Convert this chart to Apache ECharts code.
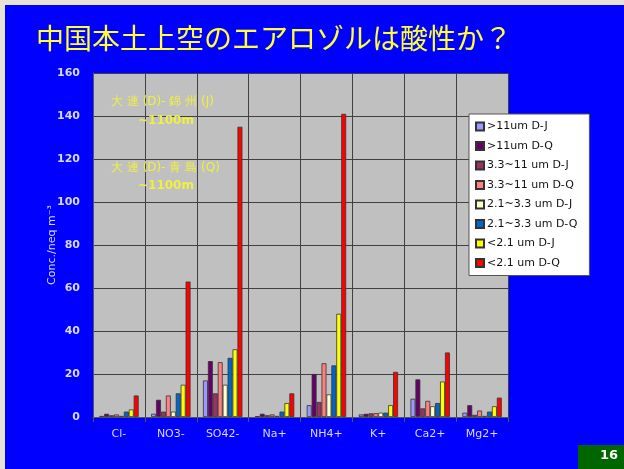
<!DOCTYPE html>
<html>
<head>
<meta charset="utf-8">
<script src="https://cdn.jsdelivr.net/npm/echarts@6/dist/echarts.min.js"></script>
<style>
  html, body { margin: 0; padding: 0; background: #e6e2d6; }
  #chart { width: 624px; height: 469px; }
</style>
</head>
<body>
<div id="chart"></div>
<script>
// Ion species on the category axis
const categories = ['Cl-', 'NO3-', 'SO42-', 'Na+', 'NH4+', 'K+', 'Ca2+', 'Mg2+'];

// Size fraction / route names (D = 大連, J = 錦州, Q = 青島)
const seriesNames = [
  '>11um D-J', '>11um D-Q',
  '3.3~11 um D-J', '3.3~11 um D-Q',
  '2.1~3.3 um D-J', '2.1~3.3 um D-Q',
  '<2.1 um D-J', '<2.1 um D-Q'
];

// Concentrations (neq m-3), one array per size fraction, in category order
const gt11_DJ   = [0.5, 1.5, 17,   0.4, 5.5,  1.2, 8.5,  2];
const gt11_DQ   = [1.5, 8,   26,   1.5, 20,   1.5, 17.5, 5.5];
const s33_11_DJ = [0.8, 2.5, 11,   0.8, 7,    1.7, 4,    1];
const s33_11_DQ = [1.2, 10,  25.5, 1.2, 25,   1.8, 7.5,  3];
const s21_33_DJ = [0.5, 2.5, 15,   0.5, 10.5, 2,   5,    0.5];
const s21_33_DQ = [2.5, 11,  27.5, 2.5, 24,   2,   6.5,  2.5];
const lt21_DJ   = [3.5, 15,  31.5, 6.5, 48,   5.5, 16.5, 5];
const lt21_DQ   = [10,  63,  135,  11,  141,  21,  30,   9];

const seriesValues = [gt11_DJ, gt11_DQ, s33_11_DJ, s33_11_DQ, s21_33_DJ, s21_33_DQ, lt21_DJ, lt21_DQ];
const seriesColors = ['#9999ff', '#660066', '#993366', '#ff8080', '#ffffcc', '#0066cc', '#ffff00', '#ff0000'];

// Value axis ticks
const yMin = 0, yMax = 160, yStep = 20;

const chart = echarts.init(document.getElementById('chart'), null, { renderer: 'canvas' });

const labelFont = '"DejaVu Sans", "Liberation Sans", sans-serif';
const annoColor = '#f0f040';

chart.setOption({
  backgroundColor: 'transparent',
  animation: false,
  graphic: [
    // slide background
    { type: 'rect', z: -10, shape: { x: 5, y: 5, width: 619, height: 464 }, style: { fill: '#0000ff' } },
    // title
    { type: 'text', left: 36, top: 24, style: {
        text: '中国本土上空のエアロゾルは酸性か？',
        font: '28px "Noto Sans CJK JP", sans-serif', fill: '#ffff33' } },
    // route annotations inside the plot
    { type: 'text', z: 20, left: 111, top: 96, style: {
        text: '大 連 (D)- 錦 州 (J)', font: '12px ' + labelFont, fill: annoColor } },
    { type: 'text', z: 20, left: 138, top: 115, style: {
        text: '~1100m', font: 'bold 12px ' + labelFont, fill: annoColor } },
    { type: 'text', z: 20, left: 111, top: 162, style: {
        text: '大 連 (D)- 青 島 (Q)', font: '12px ' + labelFont, fill: annoColor } },
    { type: 'text', z: 20, left: 138, top: 180, style: {
        text: '~1100m', font: 'bold 12px ' + labelFont, fill: annoColor } },
    // page number
    { type: 'rect', shape: { x: 578, y: 445, width: 46, height: 24 }, style: { fill: '#006600' } },
    { type: 'text', left: 600, top: 449, style: {
        text: '16', font: 'bold 13px ' + labelFont, fill: '#ffffff' } }
  ],
  legend: {
    orient: 'vertical',
    left: 469, top: 114,
    width: 120,
    backgroundColor: '#ffffff',
    borderColor: '#555555',
    borderWidth: 1,
    padding: [7, 12, 7, 6],
    itemWidth: 8, itemHeight: 8, itemGap: 8.5,
    icon: 'rect',
    textStyle: { fontFamily: labelFont, fontSize: 11, color: '#111111', padding: [0, 0, 0, -2] },
    data: seriesNames,
    z: 30
  },
  grid: { left: 93, top: 73, width: 415, height: 344, show: true, backgroundColor: '#c0c0c0', borderWidth: 0 },
  xAxis: {
    type: 'category',
    data: categories,
    axisLine: { lineStyle: { color: '#555555' } },
    axisTick: { show: true, alignWithLabel: false, lineStyle: { color: '#555555' } },
    axisLabel: { color: '#d8d8ff', fontFamily: labelFont, fontSize: 11, margin: 12 },
    splitLine: { show: true, lineStyle: { color: '#404040', width: 1 } }
  },
  yAxis: {
    type: 'value',
    min: yMin, max: yMax, interval: yStep,
    name: 'Conc./neq m⁻³',
    nameLocation: 'middle',
    nameGap: 35,
    nameMoveOverlap: false,
    nameTextStyle: { color: '#d8d8ff', fontFamily: labelFont, fontSize: 11 },
    axisLine: { show: true, lineStyle: { color: '#555555' } },
    axisTick: { show: false },
    axisLabel: { color: '#d8d8ff', fontFamily: labelFont, fontSize: 11, fontWeight: 'bold', margin: 13 },
    splitLine: { show: true, lineStyle: { color: '#404040', width: 1 } }
  },
  series: seriesNames.map((name, i) => ({
    name,
    type: 'bar',
    data: seriesValues[i],
    barGap: '0%',
    barCategoryGap: '24%',
    itemStyle: { color: seriesColors[i], borderColor: '#333333', borderWidth: 0.8 }
  }))
});
</script>
</body>
</html>
